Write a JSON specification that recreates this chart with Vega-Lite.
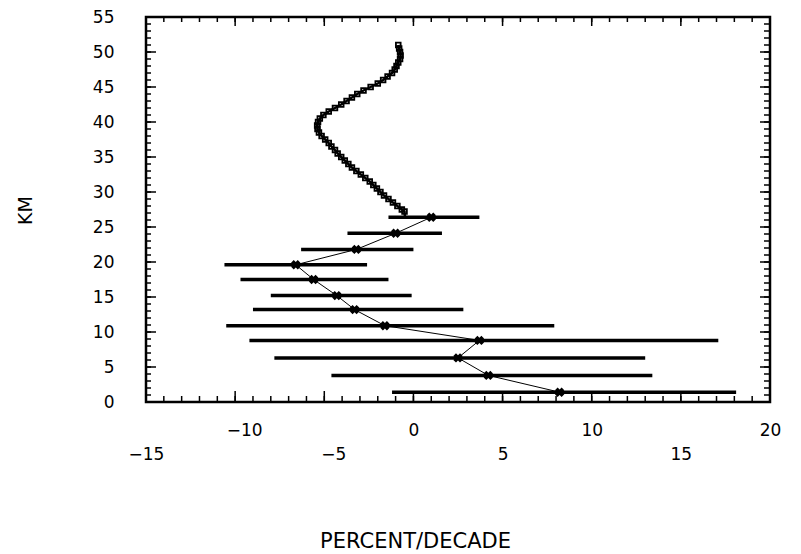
{
  "$schema": "https://vega.github.io/schema/vega-lite/v6.json",
  "width": 624,
  "height": 385,
  "autosize": "none",
  "padding": {"left": 146, "top": 17, "right": 31, "bottom": 152},
  "background": "white",
  "view": {"stroke": "black", "strokeWidth": 2.5},
  "config": {
    "axis": {
      "labelFont": "DejaVu Sans",
      "labelFontSize": 17,
      "labelColor": "black",
      "titleFont": "DejaVu Sans",
      "titleFontSize": 20,
      "titleFontWeight": "normal",
      "titleColor": "black",
      "tickColor": "black",
      "domain": false,
      "grid": false
    },
    "mark": {"color": "black"}
  },
  "datasets": {
    "bars": [
      {"km": 26.4, "c": 1.0, "lo": -1.4, "hi": 3.7},
      {"km": 24.1, "c": -1.0, "lo": -3.7, "hi": 1.6},
      {"km": 21.8, "c": -3.2, "lo": -6.3, "hi": 0.0},
      {"km": 19.6, "c": -6.6, "lo": -10.6, "hi": -2.6},
      {"km": 17.5, "c": -5.6, "lo": -9.7, "hi": -1.4},
      {"km": 15.2, "c": -4.3, "lo": -8.0, "hi": -0.1},
      {"km": 13.2, "c": -3.3, "lo": -9.0, "hi": 2.8},
      {"km": 10.9, "c": -1.6, "lo": -10.5, "hi": 7.9},
      {"km": 8.8, "c": 3.7, "lo": -9.2, "hi": 17.1},
      {"km": 6.3, "c": 2.5, "lo": -7.8, "hi": 13.0},
      {"km": 3.8, "c": 4.2, "lo": -4.6, "hi": 13.4},
      {"km": 1.4, "c": 8.2, "lo": -1.2, "hi": 18.1}
    ],
    "curve": [
      {"km": 51.0, "x": -0.85, "m": 1},
      {"km": 50.5, "x": -0.8, "m": 1},
      {"km": 50.0, "x": -0.75, "m": 1},
      {"km": 49.5, "x": -0.72, "m": 1},
      {"km": 49.0, "x": -0.75, "m": 1},
      {"km": 48.5, "x": -0.85, "m": 1},
      {"km": 48.0, "x": -0.95, "m": 1},
      {"km": 47.5, "x": -1.05, "m": 1},
      {"km": 47.0, "x": -1.2, "m": 1},
      {"km": 46.5, "x": -1.45, "m": 1},
      {"km": 46.0, "x": -1.7, "m": 1},
      {"km": 45.5, "x": -2.0, "m": 1},
      {"km": 45.0, "x": -2.4, "m": 1},
      {"km": 44.5, "x": -2.8, "m": 1},
      {"km": 44.0, "x": -3.15, "m": 1},
      {"km": 43.5, "x": -3.45, "m": 1},
      {"km": 43.0, "x": -3.75, "m": 1},
      {"km": 42.5, "x": -4.05, "m": 1},
      {"km": 42.0, "x": -4.4, "m": 1},
      {"km": 41.5, "x": -4.75, "m": 1},
      {"km": 41.0, "x": -5.05, "m": 1},
      {"km": 40.5, "x": -5.25, "m": 1},
      {"km": 40.0, "x": -5.35, "m": 1},
      {"km": 39.5, "x": -5.4, "m": 1},
      {"km": 39.0, "x": -5.38, "m": 1},
      {"km": 38.5, "x": -5.3, "m": 1},
      {"km": 38.0, "x": -5.15, "m": 1},
      {"km": 37.5, "x": -4.95, "m": 1},
      {"km": 37.0, "x": -4.75, "m": 1},
      {"km": 36.5, "x": -4.6, "m": 1},
      {"km": 36.0, "x": -4.4, "m": 1},
      {"km": 35.5, "x": -4.25, "m": 1},
      {"km": 35.0, "x": -4.05, "m": 1},
      {"km": 34.5, "x": -3.85, "m": 1},
      {"km": 34.0, "x": -3.65, "m": 1},
      {"km": 33.5, "x": -3.45, "m": 1},
      {"km": 33.0, "x": -3.2, "m": 1},
      {"km": 32.5, "x": -2.95, "m": 1},
      {"km": 32.0, "x": -2.7, "m": 1},
      {"km": 31.5, "x": -2.45, "m": 1},
      {"km": 31.0, "x": -2.25, "m": 1},
      {"km": 30.5, "x": -2.05, "m": 1},
      {"km": 30.0, "x": -1.85, "m": 1},
      {"km": 29.5, "x": -1.65, "m": 1},
      {"km": 29.0, "x": -1.4, "m": 1},
      {"km": 28.5, "x": -1.15, "m": 1},
      {"km": 28.0, "x": -0.9, "m": 1},
      {"km": 27.5, "x": -0.65, "m": 1},
      {"km": 27.2, "x": -0.5, "m": 1},
      {"km": 26.4, "x": -0.47, "m": 0}
    ],
    "xt": [
      {"v": -15}, {"v": -14}, {"v": -13}, {"v": -12}, {"v": -11}, {"v": -10}, {"v": -9}, {"v": -8}, {"v": -7}, {"v": -6},
      {"v": -5}, {"v": -4}, {"v": -3}, {"v": -2}, {"v": -1}, {"v": 0}, {"v": 1}, {"v": 2}, {"v": 3}, {"v": 4},
      {"v": 5}, {"v": 6}, {"v": 7}, {"v": 8}, {"v": 9}, {"v": 10}, {"v": 11}, {"v": 12}, {"v": 13}, {"v": 14},
      {"v": 15}, {"v": 16}, {"v": 17}, {"v": 18}, {"v": 19}, {"v": 20}
    ],
    "yt": [
      {"v": 0}, {"v": 1}, {"v": 2}, {"v": 3}, {"v": 4}, {"v": 5}, {"v": 6}, {"v": 7}, {"v": 8}, {"v": 9},
      {"v": 10}, {"v": 11}, {"v": 12}, {"v": 13}, {"v": 14}, {"v": 15}, {"v": 16}, {"v": 17}, {"v": 18}, {"v": 19},
      {"v": 20}, {"v": 21}, {"v": 22}, {"v": 23}, {"v": 24}, {"v": 25}, {"v": 26}, {"v": 27}, {"v": 28}, {"v": 29},
      {"v": 30}, {"v": 31}, {"v": 32}, {"v": 33}, {"v": 34}, {"v": 35}, {"v": 36}, {"v": 37}, {"v": 38}, {"v": 39},
      {"v": 40}, {"v": 41}, {"v": 42}, {"v": 43}, {"v": 44}, {"v": 45}, {"v": 46}, {"v": 47}, {"v": 48}, {"v": 49},
      {"v": 50}, {"v": 51}, {"v": 52}, {"v": 53}, {"v": 54}, {"v": 55}
    ]
  },
  "resolve": {"axis": {"x": "independent", "y": "independent"}},
  "layer": [
    {
      "data": {"name": "bars"},
      "mark": {"type": "rule", "strokeWidth": 3.5, "color": "black"},
      "encoding": {
        "x": {
          "field": "lo", "type": "quantitative",
          "scale": {"domain": [-15, 20], "nice": false, "zero": false},
          "axis": {
            "orient": "bottom",
            "values": [-15, -10, -5, 0, 5, 10, 15, 20],
            "ticks": false,
            "tickSize": 0,
            "labelBaseline": "top",
            "labelFlush": false,
            "labelOverlap": false,
            "labelPadding": {"condition": {"test": "datum.value % 10 === 0", "value": 20}, "value": 44},
            "labelOffset": {"condition": {"test": "datum.value < 0 && datum.value > -15", "value": 9}, "value": 0},
            "title": "PERCENT/DECADE",
            "titleX": 269,
            "titleY": 139,
            "titleBaseline": "middle",
            "titleAlign": "center",
            "titleFontSize": 21
          }
        },
        "x2": {"field": "hi"},
        "y": {
          "field": "km", "type": "quantitative",
          "scale": {"domain": [0, 55], "nice": false, "zero": false},
          "axis": {
            "orient": "left",
            "values": [0, 5, 10, 15, 20, 25, 30, 35, 40, 45, 50, 55],
            "ticks": false,
            "tickSize": 0,
            "labelPadding": 32,
            "labelFlush": false,
            "labelOverlap": false,
            "title": "KM",
            "titleX": -121,
            "titleY": 193,
            "titleBaseline": "middle",
            "titleAlign": "center",
            "titleFontSize": 19
          }
        }
      }
    },
    {
      "data": {"name": "xt"},
      "mark": {"type": "tick", "orient": "vertical", "size": 6, "thickness": 1.5, "yOffset": -3, "color": "black", "opacity": 1},
      "encoding": {
        "x": {"field": "v", "type": "quantitative", "scale": {"domain": [-15, 20], "nice": false, "zero": false}, "axis": null},
        "y": {"datum": 0, "type": "quantitative", "scale": {"domain": [0, 55], "nice": false, "zero": false}, "axis": null}
      }
    },
    {
      "data": {"name": "xt"},
      "transform": [{"filter": "datum.v % 5 === 0"}],
      "mark": {"type": "tick", "orient": "vertical", "size": 11, "thickness": 1.5, "yOffset": -5.5, "color": "black", "opacity": 1},
      "encoding": {
        "x": {"field": "v", "type": "quantitative", "scale": {"domain": [-15, 20], "nice": false, "zero": false}, "axis": null},
        "y": {"datum": 0, "type": "quantitative", "scale": {"domain": [0, 55], "nice": false, "zero": false}, "axis": null}
      }
    },
    {
      "data": {"name": "xt"},
      "mark": {"type": "tick", "orient": "vertical", "size": 5, "thickness": 1.5, "yOffset": 2.5, "color": "black", "opacity": 1},
      "encoding": {
        "x": {"field": "v", "type": "quantitative", "scale": {"domain": [-15, 20], "nice": false, "zero": false}, "axis": null},
        "y": {"datum": 55, "type": "quantitative", "scale": {"domain": [0, 55], "nice": false, "zero": false}, "axis": null}
      }
    },
    {
      "data": {"name": "xt"},
      "transform": [{"filter": "datum.v % 5 === 0"}],
      "mark": {"type": "tick", "orient": "vertical", "size": 9, "thickness": 1.5, "yOffset": 4.5, "color": "black", "opacity": 1},
      "encoding": {
        "x": {"field": "v", "type": "quantitative", "scale": {"domain": [-15, 20], "nice": false, "zero": false}, "axis": null},
        "y": {"datum": 55, "type": "quantitative", "scale": {"domain": [0, 55], "nice": false, "zero": false}, "axis": null}
      }
    },
    {
      "data": {"name": "yt"},
      "mark": {"type": "tick", "orient": "horizontal", "size": 5, "thickness": 1.5, "xOffset": 2.5, "color": "black", "opacity": 1},
      "encoding": {
        "x": {"datum": -15, "type": "quantitative", "scale": {"domain": [-15, 20], "nice": false, "zero": false}, "axis": null},
        "y": {"field": "v", "type": "quantitative", "scale": {"domain": [0, 55], "nice": false, "zero": false}, "axis": null}
      }
    },
    {
      "data": {"name": "yt"},
      "transform": [{"filter": "datum.v % 5 === 0"}],
      "mark": {"type": "tick", "orient": "horizontal", "size": 10, "thickness": 1.5, "xOffset": 5, "color": "black", "opacity": 1},
      "encoding": {
        "x": {"datum": -15, "type": "quantitative", "scale": {"domain": [-15, 20], "nice": false, "zero": false}, "axis": null},
        "y": {"field": "v", "type": "quantitative", "scale": {"domain": [0, 55], "nice": false, "zero": false}, "axis": null}
      }
    },
    {
      "data": {"name": "yt"},
      "mark": {"type": "tick", "orient": "horizontal", "size": 6, "thickness": 1.5, "xOffset": -3, "color": "black", "opacity": 1},
      "encoding": {
        "x": {"datum": 20, "type": "quantitative", "scale": {"domain": [-15, 20], "nice": false, "zero": false}, "axis": null},
        "y": {"field": "v", "type": "quantitative", "scale": {"domain": [0, 55], "nice": false, "zero": false}, "axis": null}
      }
    },
    {
      "data": {"name": "yt"},
      "transform": [{"filter": "datum.v % 5 === 0"}],
      "mark": {"type": "tick", "orient": "horizontal", "size": 10, "thickness": 1.5, "xOffset": -5, "color": "black", "opacity": 1},
      "encoding": {
        "x": {"datum": 20, "type": "quantitative", "scale": {"domain": [-15, 20], "nice": false, "zero": false}, "axis": null},
        "y": {"field": "v", "type": "quantitative", "scale": {"domain": [0, 55], "nice": false, "zero": false}, "axis": null}
      }
    },
    {
      "data": {"name": "bars"},
      "mark": {"type": "line", "strokeWidth": 1, "color": "black"},
      "encoding": {
        "x": {"field": "c", "type": "quantitative", "scale": {"domain": [-15, 20], "nice": false, "zero": false}, "axis": null},
        "y": {"field": "km", "type": "quantitative", "scale": {"domain": [0, 55], "nice": false, "zero": false}, "axis": null},
        "order": {"field": "km", "type": "quantitative"}
      }
    },
    {
      "data": {"name": "bars"},
      "mark": {"type": "point", "shape": "cross", "angle": 45, "filled": true, "size": 90, "color": "black", "opacity": 1},
      "encoding": {
        "x": {"field": "c", "type": "quantitative", "scale": {"domain": [-15, 20], "nice": false, "zero": false}, "axis": null},
        "y": {"field": "km", "type": "quantitative", "scale": {"domain": [0, 55], "nice": false, "zero": false}, "axis": null}
      }
    },
    {
      "data": {"name": "curve"},
      "mark": {"type": "line", "strokeWidth": 2.5, "color": "black"},
      "encoding": {
        "x": {"field": "x", "type": "quantitative", "scale": {"domain": [-15, 20], "nice": false, "zero": false}, "axis": null},
        "y": {"field": "km", "type": "quantitative", "scale": {"domain": [0, 55], "nice": false, "zero": false}, "axis": null},
        "order": {"field": "km", "type": "quantitative"}
      }
    },
    {
      "data": {"name": "curve"},
      "transform": [{"filter": "datum.m == 1"}],
      "mark": {"type": "point", "shape": "square", "filled": false, "size": 22, "strokeWidth": 1.8, "color": "black", "opacity": 1},
      "encoding": {
        "x": {"field": "x", "type": "quantitative", "scale": {"domain": [-15, 20], "nice": false, "zero": false}, "axis": null},
        "y": {"field": "km", "type": "quantitative", "scale": {"domain": [0, 55], "nice": false, "zero": false}, "axis": null}
      }
    }
  ]
}
